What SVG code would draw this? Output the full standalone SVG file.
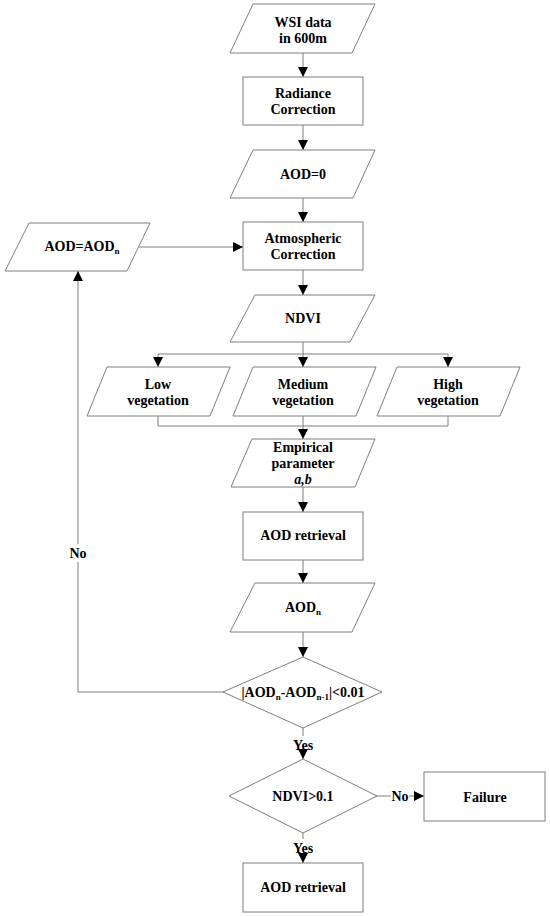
<svg xmlns="http://www.w3.org/2000/svg" width="550" height="916" viewBox="0 0 550 916">
<defs>
<marker id="ah" markerUnits="userSpaceOnUse" markerWidth="10" markerHeight="12" refX="10" refY="5" orient="auto">
<path d="M0,0 L10,5 L0,10 Z" fill="#000"/>
</marker>
<style>
.s{fill:#fff;stroke:#7f7f7f;stroke-width:1}
.c{fill:none;stroke:#7f7f7f;stroke-width:1}
.a{marker-end:url(#ah)}
text{font-family:"Liberation Serif","Times New Roman",serif;font-weight:bold;font-size:14px;fill:#000;text-anchor:middle}
.sub{font-size:9px}
</style>
</defs>
<rect width="550" height="916" fill="#fff"/>

<g id="connectors">
<line class="c a" x1="303" y1="53" x2="303" y2="77"/>
<line class="c a" x1="303" y1="125" x2="303" y2="150"/>
<line class="c a" x1="303" y1="198" x2="303" y2="222"/>
<line class="c a" x1="139" y1="247" x2="243" y2="247"/>
<line class="c a" x1="303" y1="270" x2="303" y2="295"/>
<line class="c" x1="303" y1="342" x2="303" y2="354"/>
<line class="c" x1="158" y1="354" x2="448" y2="354"/>
<line class="c a" x1="158" y1="354" x2="158" y2="367"/>
<line class="c a" x1="303" y1="354" x2="303" y2="367"/>
<line class="c a" x1="448" y1="354" x2="448" y2="367"/>
<polyline class="c" points="158,416 158,426 448,426 448,416"/>
<line class="c a" x1="303" y1="416" x2="303" y2="439"/>
<line class="c a" x1="303" y1="487" x2="303" y2="512"/>
<line class="c a" x1="303" y1="560" x2="303" y2="583"/>
<line class="c a" x1="303" y1="632" x2="303" y2="657"/>
<polyline class="c" points="223,692 78,692 78,562"/>
<line class="c a" x1="78" y1="544" x2="78" y2="271"/>
<text x="78" y="558">No</text>
<line class="c" x1="303" y1="728" x2="303" y2="736"/>
<text x="303" y="750">Yes</text>
<line class="c a" x1="303" y1="753" x2="303" y2="759"/>
<line class="c" x1="377" y1="796" x2="391" y2="796"/>
<text x="400" y="801">No</text>
<line class="c a" x1="409" y1="796" x2="424" y2="796"/>
<line class="c" x1="303" y1="833" x2="303" y2="839"/>
<text x="303" y="853">Yes</text>
<line class="c a" x1="303" y1="856" x2="303" y2="863"/>
</g>

<g id="wsi">
<polygon class="s" points="253,4 375,4 352,53 230,53"/>
<text x="303" y="27">WSI data</text>
<text x="303" y="43">in 600m</text>
</g>
<g id="radiance">
<rect class="s" x="243" y="77" width="120" height="48"/>
<text x="303" y="98">Radiance</text>
<text x="303" y="114">Correction</text>
</g>
<g id="aod0">
<polygon class="s" points="253,150 375,150 353,198 230,198"/>
<text x="303" y="179">AOD=0</text>
</g>
<g id="aodupdate">
<polygon class="s" points="29,223 150,223 127,271 5,271"/>
<text x="82" y="251">AOD=AOD<tspan class="sub" dy="3">n</tspan></text>
</g>
<g id="atmos">
<rect class="s" x="243" y="222" width="120" height="48"/>
<text x="303" y="243">Atmospheric</text>
<text x="303" y="259">Correction</text>
</g>
<g id="ndvi">
<polygon class="s" points="255,295 375,295 350,342 230,342"/>
<text x="303" y="323">NDVI</text>
</g>
<g id="low">
<polygon class="s" points="107,367 230,367 210,416 87,416"/>
<text x="158" y="389">Low</text>
<text x="158" y="405">vegetation</text>
</g>
<g id="medium">
<polygon class="s" points="253,367 376,367 356,416 233,416"/>
<text x="303" y="389">Medium</text>
<text x="303" y="405">vegetation</text>
</g>
<g id="high">
<polygon class="s" points="397,367 520,367 500,416 377,416"/>
<text x="448" y="389">High</text>
<text x="448" y="405">vegetation</text>
</g>
<g id="empirical">
<polygon class="s" points="252,439 375,439 355,487 231,487"/>
<text x="303" y="452">Empirical</text>
<text x="303" y="468">parameter</text>
<text x="303" y="484" font-style="italic">a,b</text>
</g>
<g id="retrieval1">
<rect class="s" x="243" y="512" width="120" height="48"/>
<text x="303" y="540">AOD retrieval</text>
</g>
<g id="aodn">
<polygon class="s" points="255,583 375,583 352,632 230,632"/>
<text x="303" y="612">AOD<tspan class="sub" dy="3">n</tspan></text>
</g>
<g id="converge">
<polygon class="s" points="303,657 382,692 303,728 223,692"/>
<text x="303" y="697">|AOD<tspan class="sub" dy="3">n</tspan><tspan dy="-3">-AOD</tspan><tspan class="sub" dy="3">n-1</tspan><tspan dy="-3">|&lt;0.01</tspan></text>
</g>
<g id="ndvicheck">
<polygon class="s" points="303,759 377,796 303,833 229,796"/>
<text x="303" y="801">NDVI&gt;0.1</text>
</g>
<g id="failure">
<rect class="s" x="424" y="772" width="121" height="49"/>
<text x="485" y="802">Failure</text>
</g>
<g id="retrieval2">
<rect class="s" x="243" y="863" width="120" height="49"/>
<text x="303" y="892">AOD retrieval</text>
</g>
</svg>
